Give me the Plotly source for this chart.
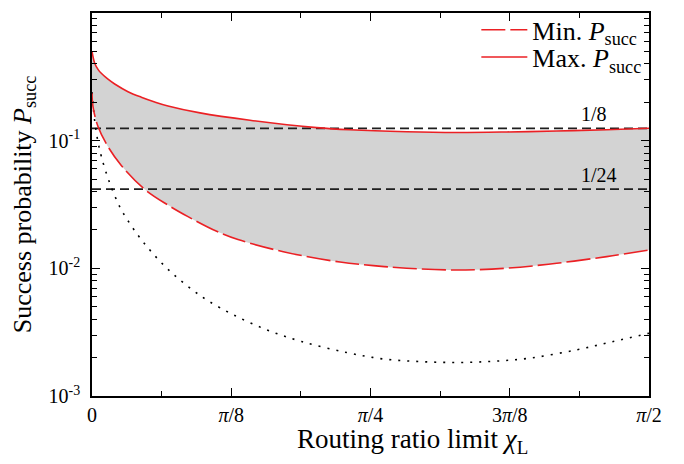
import math
import plotly.graph_objects as go

PI = math.pi

# ---- data (x in radians, y = success probability) ----
max_x = [0.0, 0.0028, 0.0076, 0.0169, 0.0262, 0.0451, 0.0640, 0.1015, 0.1390, 0.1768, 0.2143,
         0.3046, 0.4456, 0.6337, 0.7276, 0.8874, 1.0285, 1.1695, 1.3105, 1.4515, 1.5708]
max_y = [0.50, 0.455, 0.404, 0.362, 0.337, 0.303, 0.278, 0.242, 0.219, 0.201, 0.187,
         0.165, 0.1445, 0.1265, 0.1216, 0.1175, 0.1160, 0.1170, 0.1190, 0.1216, 0.125]

min_x = [0.0, 0.0028, 0.0169, 0.0451, 0.0826, 0.1486, 0.2143, 0.2707, 0.3516, 0.4117,
         0.5395, 0.6994, 0.7934, 0.8874, 1.0285, 1.1695, 1.3105, 1.4515, 1.5708]
min_y = [0.235, 0.185, 0.129, 0.0897, 0.064, 0.0416, 0.0313, 0.0254, 0.0195, 0.0168,
         0.0135, 0.0112, 0.0105, 0.01002, 0.0097, 0.01002, 0.01096, 0.01236, 0.01393]

dot_x = [0.0, 0.0038, 0.0090, 0.0169, 0.0262, 0.0471, 0.0781, 0.1063, 0.1362, 0.1692,
         0.2067, 0.2445, 0.2876, 0.3291, 0.3976, 0.4927, 0.5914, 0.7183, 0.8215, 0.9250,
         1.0285, 1.1317, 1.2352, 1.3669, 1.4701, 1.5708]
dot_y = [0.240, 0.179, 0.133, 0.0977, 0.0755, 0.0490, 0.0304, 0.0225, 0.0172, 0.0133,
         0.0103, 0.00826, 0.00664, 0.00553, 0.00434, 0.0033, 0.00267, 0.00219, 0.00195, 0.00186,
         0.00183, 0.00187, 0.00198, 0.0023, 0.00267, 0.0031]

ref_levels = [1 / 8, 1 / 24]
ref_labels = ["1/8", "1/24"]
ref_label_x = 1.373

x_tickvals = [0, PI / 8, PI / 4, 3 * PI / 8, PI / 2]
x_ticktext = ["0", "<i>π</i>/8", "<i>π</i>/4", "3<i>π</i>/8", "<i>π</i>/2"]
x_minor = [PI / 16, 3 * PI / 16, 5 * PI / 16, 7 * PI / 16]

y_tickvals = [1e-3, 1e-2, 1e-1, 1]
y_ticktext = ["10<sup>-3</sup>", "10<sup>-2</sup>", "10<sup>-1</sup>", "1"]
y_minor = [k * 10 ** e for e in (-3, -2, -1) for k in range(2, 10)]

x_title = "Routing ratio limit <i>χ</i><sub>L</sub>"
y_title = "Success probability <i>P</i><sub>succ</sub>"

FONT = "Liberation Serif"
RED = "rgb(235,32,36)"

fig = go.Figure()

# shaded band between min and max
fig.add_trace(go.Scatter(x=min_x, y=min_y, mode="lines", line=dict(width=0, shape="spline"),
                         showlegend=False, hoverinfo="skip"))
fig.add_trace(go.Scatter(x=max_x, y=max_y, mode="lines", line=dict(width=0, shape="spline"),
                         fill="tonexty", fillcolor="rgb(211,211,211)",
                         showlegend=False, hoverinfo="skip"))

# reference levels
for lv in ref_levels:
    fig.add_trace(go.Scatter(x=[0, PI / 2], y=[lv, lv], mode="lines",
                             line=dict(color="rgb(30,30,30)", width=1.8, dash="9px,5px"),
                             showlegend=False, hoverinfo="skip"))

# dotted curve
fig.add_trace(go.Scatter(x=dot_x, y=dot_y, mode="lines",
                         line=dict(color="black", width=1.6, dash="2px,7px", shape="spline"),
                         showlegend=False))

fig.add_trace(go.Scatter(x=min_x, y=min_y, mode="lines", name="Min. <i>P</i><sub>succ</sub>",
                         legend="legend",
                         line=dict(color=RED, width=1.6, dash="24px,5px", shape="spline")))
fig.add_trace(go.Scatter(x=max_x, y=max_y, mode="lines", name="Max. <i>P</i><sub>succ</sub>",
                         legend="legend2",
                         line=dict(color=RED, width=1.6, shape="spline")))

for lv, lab in zip(ref_levels, ref_labels):
    fig.add_annotation(x=ref_label_x, y=math.log10(lv), text=lab, showarrow=False,
                       xanchor="left", yanchor="bottom", yshift=1,
                       font=dict(family=FONT, size=20, color="black"))

# x-axis title (placed like the original, slightly right of centre)
fig.add_annotation(x=0.575, y=0, xref="paper", yref="paper", text=x_title, showarrow=False,
                   xanchor="center", yanchor="middle", yshift=-45,
                   font=dict(family=FONT, size=27, color="black"))

legend_style = dict(xanchor="left", yanchor="middle", bgcolor="rgba(0,0,0,0)",
                    font=dict(family=FONT, size=26), traceorder="normal", itemwidth=46)

fig.update_layout(
    width=676, height=456,
    margin=dict(l=84, r=35, t=5, b=68, autoexpand=False),
    paper_bgcolor="white", plot_bgcolor="white",
    font=dict(family=FONT, size=20, color="black"),
    legend=dict(x=0.69, y=0.956, **legend_style),
    legend2=dict(x=0.69, y=0.885, **legend_style),
)

fig.update_xaxes(
    range=[0, PI / 2], tickmode="array", tickvals=x_tickvals, ticktext=x_ticktext,
    ticks="inside", ticklen=8, tickwidth=1.3, tickcolor="black",
    minor=dict(tickmode="array", tickvals=x_minor, ticks="inside", ticklen=5,
               tickwidth=1.3, tickcolor="black"),
    showline=True, linecolor="black", linewidth=1.6, mirror="ticks",
    showgrid=False, zeroline=False, automargin=False,
    tickfont=dict(family=FONT, size=20),
)
fig.update_yaxes(
    type="log", range=[-3, 0], tickmode="array", tickvals=y_tickvals, ticktext=y_ticktext,
    ticks="inside", ticklen=8, tickwidth=1.3, tickcolor="black",
    minor=dict(tickmode="array", tickvals=y_minor, ticks="inside", ticklen=5,
               tickwidth=1.3, tickcolor="black"),
    showline=True, linecolor="black", linewidth=1.6, mirror="ticks",
    showgrid=False, zeroline=False, automargin=False, ticklabelstandoff=6,
    tickfont=dict(family=FONT, size=20),
    title=dict(text=y_title, font=dict(family=FONT, size=26), standoff=12),
)

fig.write_html("out.html")
